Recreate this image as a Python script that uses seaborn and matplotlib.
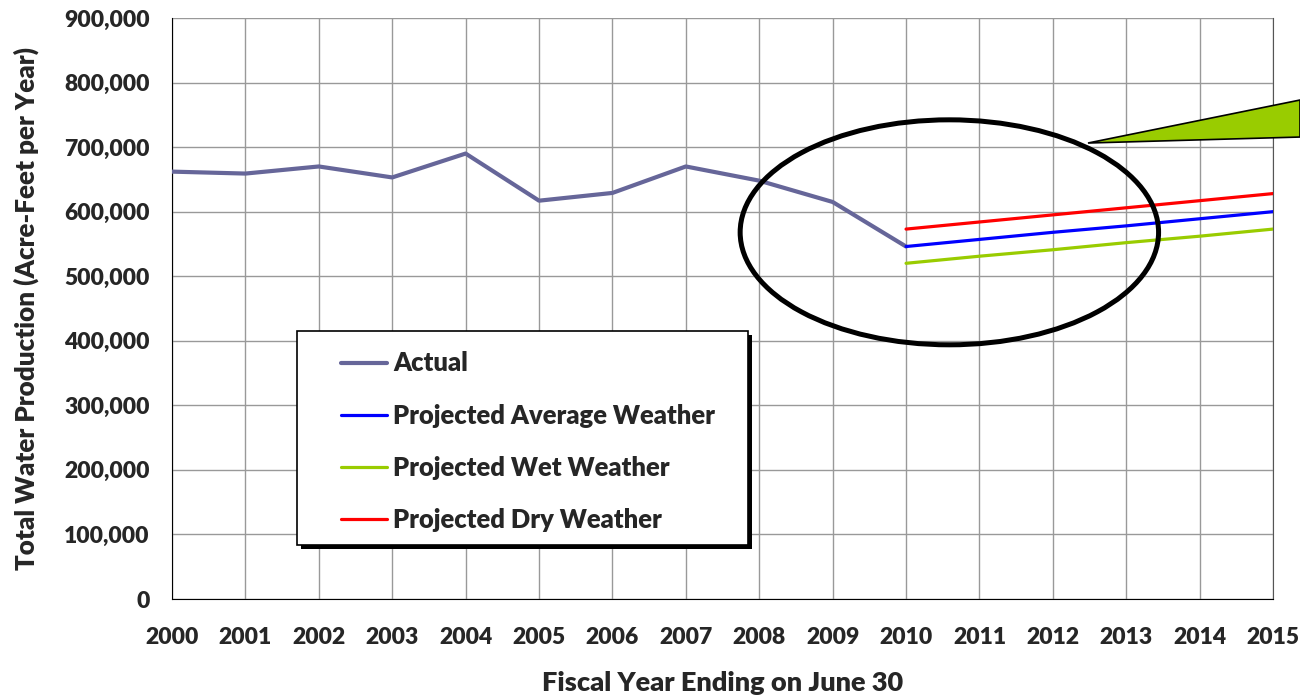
"""Total water production: actual vs projected."""

import matplotlib

matplotlib.use("Agg")
import matplotlib.pyplot as plt
import pandas as pd
import seaborn as sns
from matplotlib.patches import Ellipse, Polygon, Rectangle
from matplotlib.ticker import FuncFormatter

YEARS_ACTUAL = list(range(2000, 2011))
ACTUAL = [662000, 659000, 670000, 653000, 690000, 617000,
          629000, 670000, 648000, 615000, 546000]

YEARS_PROJ = list(range(2010, 2016))
PROJ_AVERAGE = [546000, 557000, 568000, 578000, 589000, 600000]
PROJ_WET = [520000, 531000, 541000, 552000, 562000, 573000]
PROJ_DRY = [573000, 584000, 595000, 606000, 617000, 628000]

SERIES = ["Actual", "Projected Average Weather",
          "Projected Wet Weather", "Projected Dry Weather"]
COLORS = ["#666699", "#0000ff", "#99cc00", "#ff0000"]
WIDTHS = [3.0, 2.3, 2.3, 2.3]

FONT = ["Lato", "DejaVu Sans"]
WEIGHT = "heavy"


def build_df() -> pd.DataFrame:
    parts = [
        pd.DataFrame({"Year": YEARS_ACTUAL, "Value": ACTUAL, "Series": SERIES[0]}),
        pd.DataFrame({"Year": YEARS_PROJ, "Value": PROJ_AVERAGE, "Series": SERIES[1]}),
        pd.DataFrame({"Year": YEARS_PROJ, "Value": PROJ_WET, "Series": SERIES[2]}),
        pd.DataFrame({"Year": YEARS_PROJ, "Value": PROJ_DRY, "Series": SERIES[3]}),
    ]
    return pd.concat(parts, ignore_index=True)


def main() -> None:
    sns.set_style("white")
    plt.rcParams["font.family"] = FONT
    plt.rcParams["font.weight"] = WEIGHT

    df = build_df()

    fig = plt.figure(figsize=(13, 6.97), dpi=100)
    ax = fig.add_axes([0.1323, 0.1406, 0.847, 0.8336])

    for name, color, lw in zip(SERIES, COLORS, WIDTHS):
        sns.lineplot(
            data=df[df["Series"] == name],
            x="Year",
            y="Value",
            color=color,
            linewidth=lw,
            label=name,
            legend=False,
            ax=ax,
            zorder=3,
        )

    ax.set_xlim(2000, 2015)
    ax.set_ylim(0, 900000)
    ax.set_xticks(range(2000, 2016))
    ax.set_yticks(range(0, 900001, 100000))
    ax.yaxis.set_major_formatter(FuncFormatter(lambda v, _: f"{int(v):,}"))
    ax.grid(True, color="#999999", linewidth=1)
    ax.set_axisbelow(True)

    ax.spines["top"].set_visible(False)
    ax.spines["right"].set_color("#555555")
    ax.spines["left"].set_color("black")
    ax.spines["bottom"].set_color("black")
    ax.tick_params(axis="both", direction="out", length=5, width=1,
                   color="black", labelsize=16.5)
    ax.tick_params(axis="x", pad=15)
    ax.tick_params(axis="y", pad=11)
    for lbl in ax.get_xticklabels() + ax.get_yticklabels():
        lbl.set_fontweight(WEIGHT)

    ax.set_xlabel("Fiscal Year Ending on June 30", fontsize=19.5,
                  fontweight=WEIGHT, labelpad=17)
    ax.set_ylabel("Total Water Production (Acre-Feet per Year)", fontsize=18.7,
                  fontweight=WEIGHT, labelpad=18)

    # highlight ellipse around the projections
    ax.add_patch(Ellipse((2010.59, 568000), 5.70, 348500, fill=False,
                         edgecolor="black", linewidth=3.6, zorder=6,
                         clip_on=False))

    # green callout wedge running off the right edge
    ax.add_patch(Polygon([(0.8369, 0.7948), (1.0, 0.8565), (1.0, 0.8034)],
                         closed=True, facecolor="#99cc00", edgecolor="black",
                         linewidth=1.2, transform=fig.transFigure,
                         clip_on=False, zorder=7))

    # legend frame with hard black drop shadow
    x0, y0, w, h = 0.1135, 0.0929, 0.4097, 0.3684
    ax.add_patch(Rectangle((x0 + 0.0036, y0 - 0.0069), w, h,
                           transform=ax.transAxes, facecolor="black",
                           edgecolor="none", zorder=8))
    ax.add_patch(Rectangle((x0, y0), w, h, transform=ax.transAxes,
                           facecolor="white", edgecolor="black",
                           linewidth=1.2, zorder=9))
    leg = ax.legend(
        loc="upper left",
        bbox_to_anchor=(0.1417, 0.448),
        frameon=False,
        handlelength=1.8,
        handletextpad=0.25,
        labelspacing=1.1,
        borderpad=0,
        prop={"weight": WEIGHT, "size": 18.4},
    )
    leg.set_zorder(10)

    fig.savefig("out.png", dpi=100)
    plt.close(fig)


main()
